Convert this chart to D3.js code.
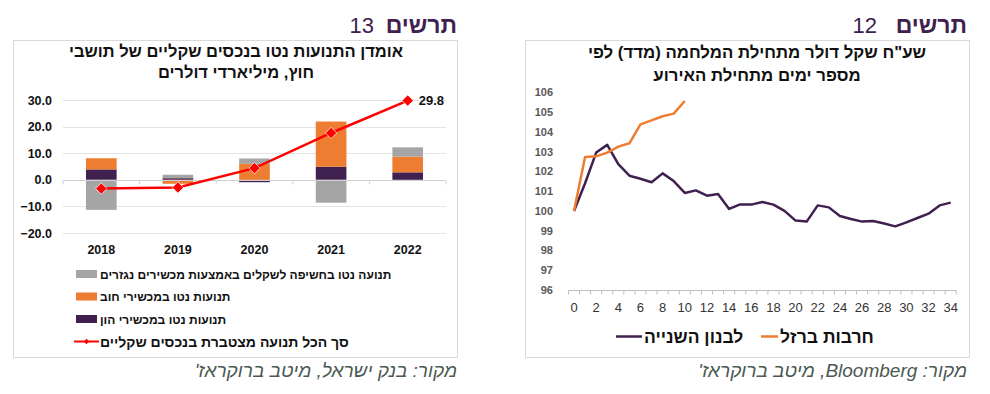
<!DOCTYPE html>
<html>
<head>
<meta charset="utf-8">
<script src="https://cdn.jsdelivr.net/npm/d3@7"></script>
<style>
  body { margin: 0; background: #fff; }
  svg { display: block; font-family: "Liberation Sans", Arial, "DejaVu Sans", sans-serif; }
  text { direction: rtl; }
</style>
</head>
<body>
<svg id="chart" width="990" height="394"></svg>
<script>
// chart 13 - net flows into shekel assets by non-residents (USD bn)
const years = ["2018", "2019", "2020", "2021", "2022"];
const equityFlows = [3.9, 0.6, -0.9, 4.9, 2.8];     // purple
const debtFlows = [4.2, -1.5, 6.0, 17.0, 5.9];      // orange
const hedgeFlows = [-11.3, 1.3, 2.0, -8.6, 3.5];    // grey
const cumulative = [-3.3, -2.9, 4.4, 17.6, 29.8];   // red line
const leftTicks = [-20, -10, 0, 10, 20, 30];

// chart 12 - USD/ILS index since start of war, by day
const days = d3.range(0, 35);
const ironSwords = [100, 102.73, 102.76, 102.95, 103.25, 103.42, 104.38, 104.58, 104.79, 104.92, 105.56];
const lebanon2 = [100, 101.4, 102.95, 103.34, 102.37, 101.78, 101.63, 101.45, 101.9, 101.51,
  100.91, 101.04, 100.77, 100.86, 100.1, 100.33, 100.32, 100.45, 100.32, 100.0,
  99.51, 99.46, 100.28, 100.18, 99.74, 99.59, 99.46, 99.49, 99.36, 99.22,
  99.42, 99.64, 99.86, 100.28, 100.42];
const rightTicks = [96, 97, 98, 99, 100, 101, 102, 103, 104, 105, 106];
const dayLabels = d3.range(0, 35, 2);

const purple = "#40204f";
const orange = "#ed7d31";
const grey = "#a5a5a5";
const red = "#ff0000";

const svg = d3.select("#chart");

// ---------- headings ----------
function heading(xRight, xNum, num) {
  svg.append("text")
    .attr("x", xRight).attr("y", 33)
    .attr("text-anchor", "start")
    .attr("fill", purple)
    .attr("font-weight", "bold")
    .style("font-size", "23px")
    .text("תרשים");
  svg.append("text")
    .attr("x", xNum).attr("y", 33)
    .attr("text-anchor", "end")
    .style("direction", "ltr")
    .attr("fill", purple)
    .style("font-size", "22px")
    .text(num);
}
heading(457, 374, "13");
heading(967, 877, "12");

// panel frames
svg.append("rect").attr("x", 13.5).attr("y", 40.5).attr("width", 444).attr("height", 317)
  .attr("fill", "none").attr("stroke", "#d9d9d9");
svg.append("rect").attr("x", 525.5).attr("y", 40.5).attr("width", 444).attr("height", 317)
  .attr("fill", "none").attr("stroke", "#d9d9d9");

function titleLines(cx, lines, ys, size) {
  lines.forEach((s, i) => {
    svg.append("text")
      .attr("x", cx).attr("y", ys[i])
      .attr("text-anchor", "middle")
      .attr("font-weight", "bold")
      .style("font-size", size + "px")
      .attr("fill", "#111")
      .text(s);
  });
}
titleLines(236, ["אומדן התנועות נטו בנכסים שקליים של תושבי", "חוץ, מיליארדי דולרים"], [57, 78], 16.5);
titleLines(757, ["שע\"ח שקל דולר מתחילת המלחמה (מדד) לפי", "מספר ימים מתחילת האירוע"], [58, 81], 16.8);

// ---------- left chart ----------
const xL = d3.scaleBand().domain(years).range([63, 446]).paddingInner(0.6).paddingOuter(0.3);
const yL = d3.scaleLinear().domain([-20, 30]).range([233, 100]);

const gL = svg.append("g");
gL.selectAll("line.grid").data(leftTicks.filter(d => d !== 0)).join("line")
  .attr("x1", 63).attr("x2", 446)
  .attr("y1", d => Math.round(yL(d)) + 0.5).attr("y2", d => Math.round(yL(d)) + 0.5)
  .attr("stroke", "#e3e3e3");

gL.selectAll("text.ytick").data(leftTicks).join("text")
  .attr("x", 52).attr("y", d => yL(d) + 4.5)
  .attr("text-anchor", "end")
  .style("direction", "ltr")
  .attr("font-weight", "bold")
  .style("font-size", "12.5px")
  .attr("fill", "#111")
  .text(d3.format(".1f"));

const rows = years.map((y, i) => ({ year: y, equity: equityFlows[i], debt: debtFlows[i], hedge: hedgeFlows[i] }));
const stacked = d3.stack().keys(["equity", "debt", "hedge"]).offset(d3.stackOffsetDiverging)(rows);
const colorOf = { equity: purple, debt: orange, hedge: grey };

gL.selectAll("g.series").data(stacked).join("g")
  .attr("fill", d => colorOf[d.key])
  .selectAll("rect").data(d => d).join("rect")
  .attr("x", d => xL(d.data.year))
  .attr("width", xL.bandwidth())
  .attr("y", d => yL(Math.max(d[0], d[1])))
  .attr("height", d => Math.abs(yL(d[0]) - yL(d[1])));

// zero axis with category ticks
const y0 = Math.round(yL(0)) + 0.5;
gL.append("line").attr("x1", 63).attr("x2", 446).attr("y1", y0).attr("y2", y0).attr("stroke", "#d0d0d0");
const step = xL.step();
gL.selectAll("line.ctick").data(d3.range(0, years.length + 1)).join("line")
  .attr("x1", i => xL(years[0]) - step * xL.paddingOuter() + i * step)
  .attr("x2", i => xL(years[0]) - step * xL.paddingOuter() + i * step)
  .attr("y1", y0).attr("y2", y0 + 4)
  .attr("stroke", "#d0d0d0");

gL.selectAll("text.xtick").data(years).join("text")
  .attr("x", d => xL(d) + xL.bandwidth() / 2).attr("y", 254)
  .attr("text-anchor", "middle")
  .attr("font-weight", "bold")
  .style("font-size", "12.5px")
  .attr("fill", "#111")
  .text(d => d);

const lineL = d3.line().x((d, i) => xL(years[i]) + xL.bandwidth() / 2).y(d => yL(d));
gL.append("path").datum(cumulative).attr("d", lineL)
  .attr("fill", "none").attr("stroke", red).attr("stroke-width", 2.5);

const diamond = d3.symbol(d3.symbolSquare, 64);
gL.selectAll("path.mk").data(cumulative).join("path")
  .attr("d", diamond)
  .attr("transform", (d, i) => `translate(${xL(years[i]) + xL.bandwidth() / 2},${yL(d)}) rotate(45)`)
  .attr("fill", red).attr("stroke", "#fff").attr("stroke-width", 0.7);

gL.append("text")
  .attr("x", xL(years[4]) + xL.bandwidth() / 2 + 11).attr("y", yL(cumulative[4]) + 4.5)
  .attr("text-anchor", "start")
  .style("direction", "ltr")
  .attr("font-weight", "bold")
  .style("font-size", "13px")
  .attr("fill", "#111")
  .text(d3.format(".1f")(cumulative[4]));

// legend left
const legL = [
  { label: "תנועה נטו בחשיפה לשקלים באמצעות מכשירים נגזרים", color: grey, y: 274 },
  { label: "תנועות נטו במכשירי חוב", color: orange, y: 296.5 },
  { label: "תנועות נטו במכשירי הון", color: purple, y: 319 }
];
legL.forEach(d => {
  gL.append("rect").attr("x", 76).attr("y", d.y - 4).attr("width", 21).attr("height", 8).attr("fill", d.color);
  gL.append("text").attr("x", 100).attr("y", d.y + 4.5)
    .attr("text-anchor", "end")
    .attr("font-weight", "bold")
    .style("font-size", "12px")
    .attr("fill", "#111")
    .text(d.label);
});
gL.append("line").attr("x1", 74).attr("x2", 99).attr("y1", 341.5).attr("y2", 341.5)
  .attr("stroke", red).attr("stroke-width", 2);
gL.append("path").attr("d", d3.symbol(d3.symbolSquare, 14))
  .attr("transform", "translate(86.5,341.5) rotate(45)").attr("fill", red);
gL.append("text").attr("x", 100).attr("y", 346.5)
  .attr("text-anchor", "end")
  .attr("font-weight", "bold")
  .style("font-size", "14px")
  .attr("fill", "#111")
  .text("סך הכל תנועה מצטברת בנכסים שקליים");

// ---------- right chart ----------
const xR = d3.scaleLinear().domain([0, 34]).range([574, 950.7]);
const yR = d3.scaleLinear().domain([96, 106]).range([290, 92.3]);
const gR = svg.append("g");
const unit = xR(1) - xR(0);

gR.selectAll("text.ytick").data(rightTicks).join("text")
  .attr("x", 553).attr("y", d => yR(d) + 4)
  .attr("text-anchor", "end")
  .style("direction", "ltr")
  .attr("font-weight", "bold")
  .style("font-size", "11px")
  .attr("fill", "#595959")
  .text(d => d);

const axY = Math.round(yR(96)) + 0.5;
gR.append("line").attr("x1", xR(0) - unit / 2).attr("x2", xR(34) + unit / 2)
  .attr("y1", axY).attr("y2", axY).attr("stroke", "#bfbfbf");
gR.selectAll("line.tk").data(d3.range(0, 36)).join("line")
  .attr("x1", i => xR(i) - unit / 2).attr("x2", i => xR(i) - unit / 2)
  .attr("y1", axY).attr("y2", axY + 4)
  .attr("stroke", "#bfbfbf");

gR.selectAll("text.xtick").data(dayLabels).join("text")
  .attr("x", d => xR(d)).attr("y", 312)
  .attr("text-anchor", "middle")
  .style("direction", "ltr")
  .style("font-size", "13px")
  .attr("fill", "#333")
  .text(d => d);

const lineR = d3.line().x((d, i) => xR(days[i])).y(d => yR(d));
gR.append("path").datum(lebanon2).attr("d", lineR)
  .attr("fill", "none").attr("stroke", purple).attr("stroke-width", 2.5).attr("stroke-linejoin", "round");
gR.append("path").datum(ironSwords).attr("d", lineR)
  .attr("fill", "none").attr("stroke", orange).attr("stroke-width", 2.5).attr("stroke-linejoin", "round");

// legend right
const legR = [
  { label: "חרבות ברזל", color: orange, x1: 761, x2: 778 },
  { label: "לבנון השנייה", color: purple, x1: 616, x2: 642 }
];
legR.forEach(d => {
  gR.append("line").attr("x1", d.x1).attr("x2", d.x2).attr("y1", 336.5).attr("y2", 336.5)
    .attr("stroke", d.color).attr("stroke-width", 2.5);
  gR.append("text").attr("x", d.x2 + 2).attr("y", 342.5)
    .attr("text-anchor", "end")
    .attr("font-weight", "bold")
    .style("font-size", "17.5px")
    .attr("fill", "#111")
    .text(d.label);
});

// sources
[{ x: 457, t: "מקור: בנק ישראל, מיטב ברוקראז'" }, { x: 967, t: "מקור: Bloomberg, מיטב ברוקראז'" }].forEach(d => {
  svg.append("text").attr("x", d.x).attr("y", 377)
    .attr("text-anchor", "start")
    .attr("font-style", "italic")
    .style("font-size", "19px")
    .attr("fill", "#4b5a52")
    .text(d.t);
});
</script>
</body>
</html>
